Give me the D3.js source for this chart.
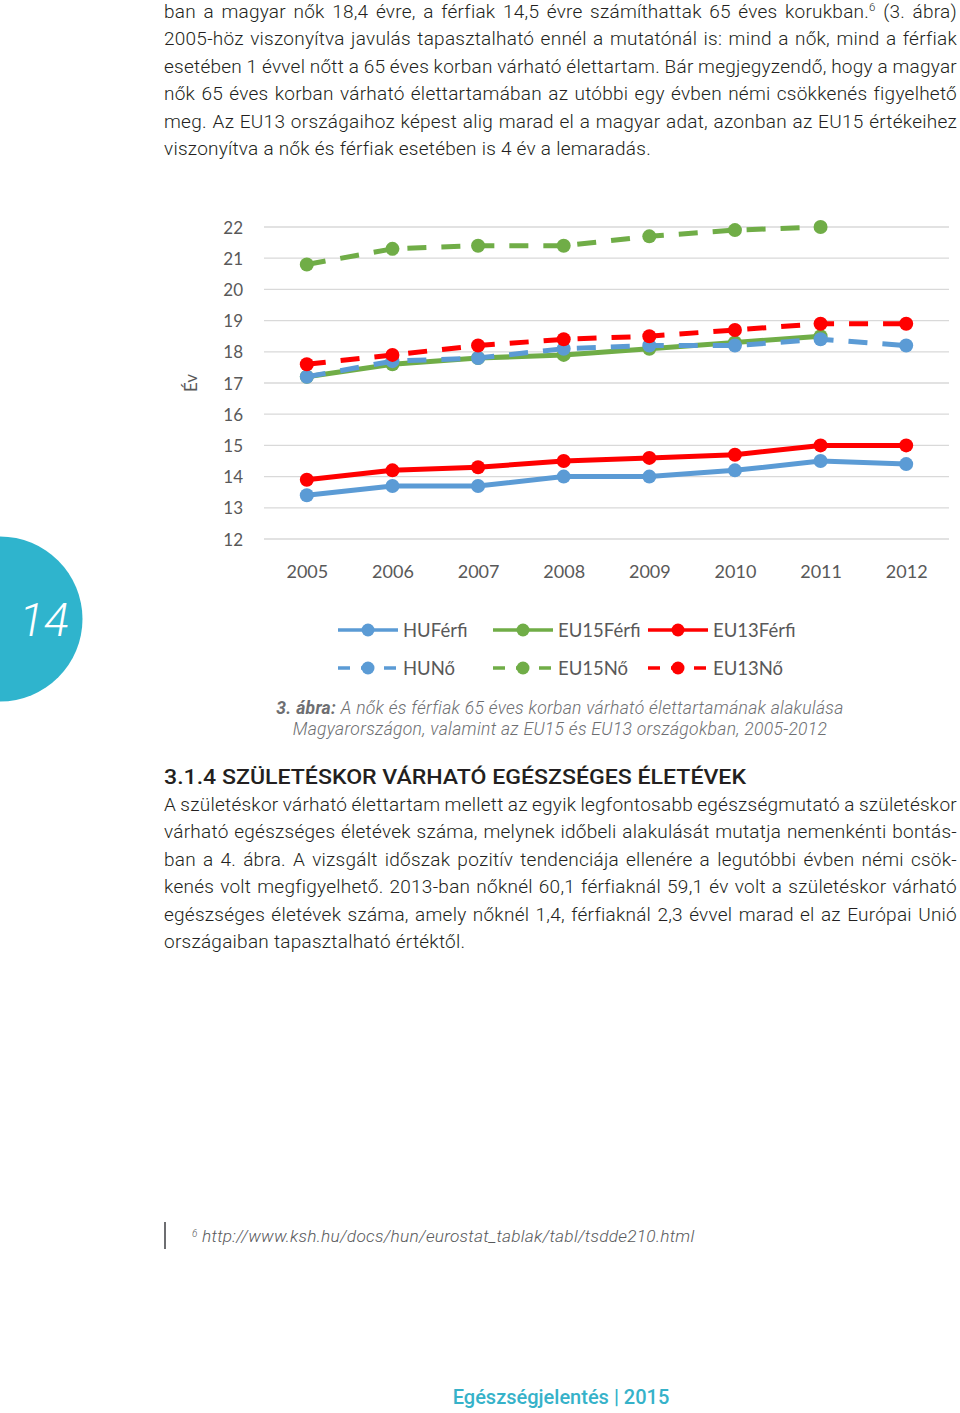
<!DOCTYPE html>
<html><head><meta charset="utf-8">
<script src="https://cdn.jsdelivr.net/npm/d3@7"></script>
<style>
html,body{margin:0;padding:0;background:#fff;}
svg{display:block;}
</style></head>
<body>
<svg id="page" width="960" height="1413"></svg>
<script>
// ---- data ----
const years = ["2005","2006","2007","2008","2009","2010","2011","2012"];
const huFerfi   = [13.4,13.7,13.7,14.0,14.0,14.2,14.5,14.4];
const eu15Ferfi = [17.2,17.6,17.8,17.9,18.1,18.3,18.5,null];
const eu13Ferfi = [13.9,14.2,14.3,14.5,14.6,14.7,15.0,15.0];
const huNo      = [17.2,17.7,17.8,18.1,18.2,18.2,18.4,18.2];
const eu15No    = [20.8,21.3,21.4,21.4,21.7,21.9,22.0,null];
const eu13No    = [17.6,17.9,18.2,18.4,18.5,18.7,18.9,18.9];
const seriesNames = ["HUFérfi","EU15Férfi","EU13Férfi","HUNő","EU15Nő","EU13Nő"];
const yTicks = [12,13,14,15,16,17,18,19,20,21,22];
const yTitle = "Év";

const series = [
  {name:seriesNames[0], values:huFerfi,   color:"#5b9bd5", dash:false},
  {name:seriesNames[1], values:eu15Ferfi, color:"#70ad47", dash:false},
  {name:seriesNames[2], values:eu13Ferfi, color:"#ff0000", dash:false},
  {name:seriesNames[3], values:huNo,      color:"#5b9bd5", dash:true},
  {name:seriesNames[4], values:eu15No,    color:"#70ad47", dash:true},
  {name:seriesNames[5], values:eu13No,    color:"#ff0000", dash:true}
];

const svg = d3.select("#page");
const bodyFont = "Roboto, 'Liberation Sans', sans-serif";
const chartFont = "Lato, 'Open Sans', sans-serif";

// ---- justified text helper ----
function textLines(lines, x0, y0, lh, width, opts){
  const g = svg.append("g")
    .attr("font-family", opts.font || bodyFont)
    .attr("font-size", opts.size)
    .attr("font-weight", opts.weight || 300)
    .attr("letter-spacing", opts.ls || 0)
    .attr("fill", opts.color || "#231f20");
  lines.forEach((ln, i) => {
    const t = g.append("text").attr("x", x0).attr("y", y0 + i*lh);
    if (Array.isArray(ln.parts)) {
      ln.parts.forEach(p => {
        const ts = t.append("tspan").text(p.t);
        if (p.sup) ts.attr("font-size", opts.size*0.6).attr("baseline-shift", "super");
      });
    } else t.text(ln.t);
    const w = t.node().getComputedTextLength();
    const str = Array.isArray(ln.parts) ? ln.parts.map(p=>p.t).join("") : ln.t;
    const nSp = (str.match(/ /g) || []).length;
    if (ln.justify && nSp > 0) {
      t.attr("word-spacing", (width - w)/nSp);
    }
  });
  return g;
}

// ---- top paragraph ----
textLines([
  {parts:[{t:"ban a magyar nők 18,4 évre, a férfiak 14,5 évre számíthattak 65 éves korukban."},{t:"6",sup:true},{t:" (3. ábra)"}], justify:true},
  {t:"2005-höz viszonyítva javulás tapasztalható ennél a mutatónál is: mind a nők, mind a férfiak", justify:true},
  {t:"esetében 1 évvel nőtt a 65 éves korban várható élettartam. Bár megjegyzendő, hogy a magyar", justify:true},
  {t:"nők 65 éves korban várható élettartamában az utóbbi egy évben némi csökkenés figyelhető", justify:true},
  {t:"meg. Az EU13 országaihoz képest alig marad el a magyar adat, azonban az EU15 értékeihez", justify:true},
  {t:"viszonyítva a nők és férfiak esetében is 4 év a lemaradás.", justify:false}
], 164, 18, 27.4, 793, {size:19, ls:0.25});

// ---- chart ----
const x = d3.scalePoint().domain(years).range([264, 949]).padding(0.5);
const y = d3.scaleLinear().domain([12, 22]).range([539, 227]);

const chart = svg.append("g");
// gridlines
chart.append("g").selectAll("line").data(yTicks).join("line")
  .attr("x1", 264).attr("x2", 949)
  .attr("y1", d => y(d)).attr("y2", d => y(d))
  .attr("stroke", "#d9d9d9").attr("stroke-width", 1.3);

// y axis labels via d3 axis
const yAxis = chart.append("g").attr("transform", "translate(252,0)")
  .call(d3.axisLeft(y).tickValues(yTicks).tickSize(0).tickPadding(9).tickFormat(d3.format("d")));
yAxis.select(".domain").remove();
yAxis.selectAll("text").attr("font-family", chartFont).attr("font-size", 17)
  .attr("fill", "#595959").attr("dy", "0.36em");

// x axis labels
const xAxis = chart.append("g").attr("transform", "translate(0,561)")
  .call(d3.axisBottom(x).tickSize(0).tickPadding(0));
xAxis.select(".domain").remove();
xAxis.selectAll("text").attr("font-family", chartFont).attr("font-size", 18)
  .attr("fill", "#595959").attr("dy", "0.95em");

// y title
chart.append("text").attr("transform", "translate(197,383) rotate(-90)")
  .attr("text-anchor", "middle").attr("font-family", chartFont).attr("font-size", 17)
  .attr("fill", "#595959").text(yTitle);

const line = d3.line().defined(d => d.v != null).x(d => x(d.y)).y(d => y(d.v));
series.forEach(s => {
  const pts = years.map((yr, i) => ({y: yr, v: s.values[i]}));
  const g = chart.append("g");
  g.append("path").datum(pts).attr("d", line).attr("fill", "none")
    .attr("stroke", s.color).attr("stroke-width", 5)
    .attr("stroke-linejoin", "round")
    .attr("stroke-dasharray", s.dash ? "19,15" : null);
  g.selectAll("circle").data(pts.filter(d => d.v != null)).join("circle")
    .attr("cx", d => x(d.y)).attr("cy", d => y(d.v)).attr("r", 7)
    .attr("fill", s.color);
});

// legend
const legX = [338, 493, 648];
const legY = [630, 668];
series.forEach((s, i) => {
  const col = i % 3, row = Math.floor(i / 3);
  const lx = legX[col], ly = legY[row];
  const g = svg.append("g");
  g.append("line").attr("x1", lx).attr("x2", lx + 60).attr("y1", ly).attr("y2", ly)
    .attr("stroke", s.color).attr("stroke-width", 3.5)
    .attr("stroke-dasharray", s.dash ? "12,11" : null);
  g.append("circle").attr("cx", lx + 30).attr("cy", ly).attr("r", 6.5).attr("fill", s.color);
  g.append("text").attr("x", lx + 65).attr("y", ly).attr("dy", "0.36em")
    .attr("font-family", chartFont).attr("font-size", 18.5).attr("fill", "#595959")
    .text(s.name);
});

// caption
const cap = svg.append("g").attr("font-family", bodyFont).attr("font-size", 17.5)
  .attr("letter-spacing", 0.3)
  .attr("fill", "#6d6e71").attr("text-anchor", "middle").attr("font-style", "italic");
const c1 = cap.append("text").attr("x", 560).attr("y", 714);
c1.append("tspan").attr("font-weight", 700).text("3. ábra:");
c1.append("tspan").attr("font-weight", 300).text(" A nők és férfiak 65 éves korban várható élettartamának alakulása");
cap.append("text").attr("x", 560).attr("y", 735).attr("font-weight", 300)
  .text("Magyarországon, valamint az EU15 és EU13 országokban, 2005-2012");

// page number circle
svg.append("circle").attr("cx", 0).attr("cy", 619).attr("r", 82.5).attr("fill", "#2fb4cd");
svg.append("text").attr("x", 44).attr("y", 636).attr("text-anchor", "middle")
  .attr("font-family", bodyFont).attr("font-weight", 300).attr("font-style", "italic")
  .attr("font-size", 46).attr("fill", "#fff").text("14");

// heading
svg.append("text").attr("x", 164).attr("y", 784)
  .attr("font-family", bodyFont).attr("font-weight", 500).attr("font-size", 21)
  .attr("fill", "#231f20").attr("textLength", 582).attr("lengthAdjust", "spacingAndGlyphs")
  .text("3.1.4  SZÜLETÉSKOR VÁRHATÓ EGÉSZSÉGES ÉLETÉVEK");

// second paragraph
textLines([
  {t:"A születéskor várható élettartam mellett az egyik legfontosabb egészségmutató a születéskor", justify:true},
  {t:"várható egészséges életévek száma, melynek időbeli alakulását mutatja nemenkénti bontás-", justify:true},
  {t:"ban a 4. ábra. A vizsgált időszak pozitív tendenciája ellenére a legutóbbi évben némi csök-", justify:true},
  {t:"kenés volt megfigyelhető. 2013-ban nőknél 60,1 férfiaknál 59,1 év volt a születéskor várható", justify:true},
  {t:"egészséges életévek száma, amely nőknél 1,4, férfiaknál 2,3 évvel marad el az Európai Unió", justify:true},
  {t:"országaiban tapasztalható értéktől.", justify:false}
], 164, 811, 27.4, 793, {size:19, ls:0.25});

// footnote
svg.append("line").attr("x1", 165).attr("x2", 165).attr("y1", 1222).attr("y2", 1249)
  .attr("stroke", "#6d6e71").attr("stroke-width", 2);
const fn = svg.append("text").attr("x", 192).attr("y", 1242)
  .attr("font-family", bodyFont).attr("font-weight", 300).attr("font-style", "italic")
  .attr("font-size", 17.3).attr("letter-spacing", 0.25).attr("fill", "#58595b");
fn.append("tspan").attr("font-size", 10).attr("baseline-shift", "super").text("6");
fn.append("tspan").text(" http://www.ksh.hu/docs/hun/eurostat_tablak/tabl/tsdde210.html");

// footer
svg.append("text").attr("x", 561).attr("y", 1404).attr("text-anchor", "middle")
  .attr("font-family", bodyFont).attr("font-weight", 500).attr("font-size", 20)
  .attr("fill", "#36b2c9").text("Egészségjelentés | 2015");
</script>
</body></html>
